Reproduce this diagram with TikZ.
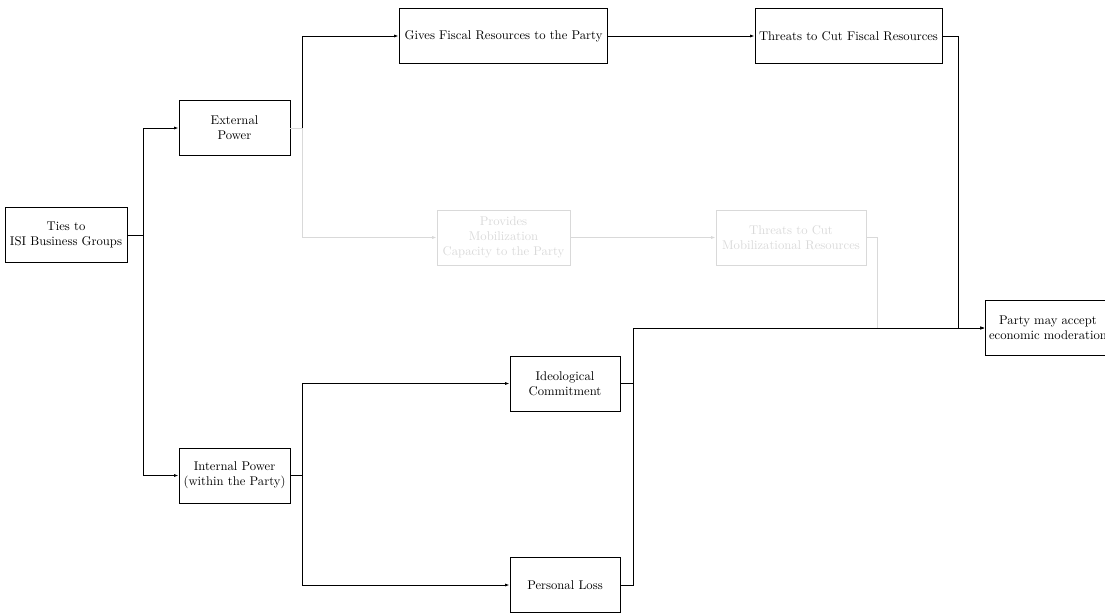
\documentclass[tikz,border=0pt]{standalone}
\usetikzlibrary{arrows.meta}
\begin{document}
\begin{tikzpicture}[x=0.79pt,y=-0.79pt,
  box/.style={draw,line width=0.7pt,align=center,inner sep=1pt,minimum height=43.5pt,font=\normalsize},
  faint/.style={draw=black!15,text=black!15},
  conn/.style={line width=0.7pt,-{Latex[length=3.5pt,width=2.4pt]}},
  fconn/.style={conn,draw=black!15}]
\useasboundingbox (0,0) rectangle (1105,612);
% nodes
\node[box,minimum width=96.4pt] (ties) at (66,235) {Ties to\\ISI Business Groups};
\node[box,minimum width=87.7pt] (ext) at (234.5,128) {External\\Power};
\node[box,minimum width=87.7pt] (int) at (234.5,475.5) {Internal Power\\(within the Party)};
\node[box,minimum width=165pt] (gives) at (503.5,36) {Gives Fiscal Resources to the Party};
\node[box,minimum width=147.7pt] (thrf) at (848.5,36) {Threats to Cut Fiscal Resources};
\node[box,faint,minimum width=105pt] (prov) at (503.5,237.5) {Provides\\Mobilization\\Capacity to the Party};
\node[box,faint,minimum width=118.5pt] (thrm) at (791,237.5) {Threats to Cut\\Mobilizational Resources};
\node[box,minimum width=86.9pt] (ideo) at (565,383.5) {Ideological\\Commitment};
\node[box,minimum width=86.9pt] (loss) at (565,585) {Personal Loss};
\node[box,minimum width=99pt] (party) at (1048,328) {Party may accept\\economic moderation};
% faded connectors (lower part)
\draw[fconn] (prov.east) -- (thrm.west);
\draw[fconn] (thrm.east) -- ++(11,0) |- (party.west);
% connectors
\draw[conn] (ties.east) -- ++(16,0) |- (ext.west);
\draw[conn] (ties.east) -- ++(16,0) |- (int.west);
\draw[conn] (ext.east) -- ++(12,0) |- (gives.west);
\draw[fconn] (ext.east) -- ++(12,0) |- (prov.west);
\draw[conn] (gives.east) -- (thrf.west);
\draw[conn] (thrf.east) -- ++(16,0) |- (party.west);
\draw[conn] (int.east) -- ++(12,0) |- (ideo.west);
\draw[conn] (int.east) -- ++(12,0) |- (loss.west);
\draw[conn] (ideo.east) -- ++(13,0) |- (party.west);
\draw[conn] (loss.east) -- ++(13,0) |- (party.west);
\end{tikzpicture}
\end{document}
